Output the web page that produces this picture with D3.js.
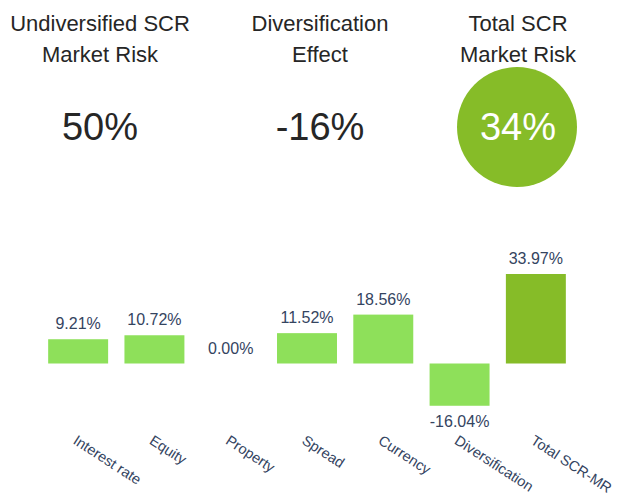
<!DOCTYPE html>
<html>
<head>
    <meta charset="utf-8">
    <title>SCR Market Risk</title>
    <script src="https://d3js.org/d3.v7.min.js"></script>
    <style>
        body {
            margin: 0;
            padding: 0;
            background-color: #ffffff;
            font-family: "Liberation Sans", Arial, sans-serif;
        }
    </style>
</head>
<body>
    <div id="chart"></div>
    <script>
        // KPI headers
        var kpiTitles = [["Undiversified SCR", "Market Risk"], ["Diversification", "Effect"], ["Total SCR", "Market Risk"]];
        var kpiValues = ["50%", "-16%", "34%"];

        // bar chart data
        var categories = ["Interest rate", "Equity", "Property", "Spread", "Currency", "Diversification", "Total SCR-MR"];
        var values = [9.21, 10.72, 0.00, 11.52, 18.56, -16.04, 33.97];

        var width = 624, height = 498;
        var lightGreen = "#8ee05a", darkGreen = "#86bc28";

        var svg = d3.select("#chart")
            .append("svg")
            .attr("width", width)
            .attr("height", height);

        // top KPI row
        var kpiX = [100, 320, 518];
        var kpi = svg.selectAll(".kpi")
            .data(kpiTitles)
            .enter().append("g")
            .attr("class", "kpi")
            .attr("transform", function(d, i) { return "translate(" + kpiX[i] + ",0)"; });

        kpi.filter(function(d, i) { return i === 2; })
            .append("circle")
            .attr("cx", -1)
            .attr("cy", 127)
            .attr("r", 60)
            .style("fill", darkGreen);

        kpi.append("text")
            .attr("text-anchor", "middle")
            .style("font-size", "22px")
            .style("fill", "#262626")
            .selectAll("tspan")
            .data(function(d) { return d; })
            .enter().append("tspan")
            .attr("x", 0)
            .attr("y", function(d, i) { return 31 + i * 31; })
            .text(function(d) { return d; });

        kpi.append("text")
            .attr("text-anchor", "middle")
            .attr("y", 140)
            .style("font-size", "38px")
            .style("fill", function(d, i) { return i === 2 ? "#ffffff" : "#262626"; })
            .text(function(d, i) { return kpiValues[i]; });

        // bar chart
        var x = d3.scaleBand()
            .domain(categories)
            .range([40, 574])
            .paddingInner(0.214)
            .paddingOuter(0.107);

        var y = d3.scaleLinear()
            .domain([0, 33.97])
            .range([363.5, 274]);

        svg.selectAll(".bar")
            .data(values)
            .enter().append("rect")
            .attr("class", "bar")
            .attr("x", function(d, i) { return x(categories[i]); })
            .attr("width", x.bandwidth())
            .attr("y", function(d) { return y(Math.max(0, d)); })
            .attr("height", function(d) { return Math.abs(y(d) - y(0)); })
            .style("fill", function(d, i) { return i === values.length - 1 ? darkGreen : lightGreen; });

        svg.selectAll(".value")
            .data(values)
            .enter().append("text")
            .attr("class", "value")
            .attr("text-anchor", "middle")
            .attr("x", function(d, i) { return x(categories[i]) + x.bandwidth() / 2; })
            .attr("y", function(d) { return d < 0 ? y(d) + 21 : y(d) - 10; })
            .style("font-size", "16px")
            .style("fill", "#34445f")
            .text(function(d) { return d.toFixed(2) + "%"; });

        // rotated category labels
        svg.selectAll(".cat")
            .data(categories)
            .enter().append("text")
            .attr("class", "cat")
            .attr("transform", function(d) {
                return "translate(" + (x(d) + x.bandwidth() / 2 - 6) + ",443) rotate(33)";
            })
            .style("font-size", "14.5px")
            .style("fill", "#34445f")
            .text(function(d) { return d; });
    </script>
</body>
</html>
